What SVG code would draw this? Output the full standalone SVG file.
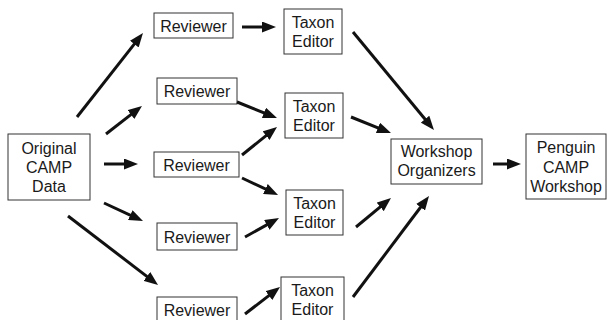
<svg xmlns="http://www.w3.org/2000/svg" width="608" height="320" viewBox="0 0 608 320">
<style>
.box{fill:#fff;stroke:#333;stroke-width:1}
.t{font-family:"Liberation Sans",Arial,sans-serif;font-size:16px;fill:#1a1a1a;text-anchor:middle}
.c line{stroke:#111;stroke-width:3;marker-end:url(#ah)}
</style>
<defs>
<marker id="ah" markerUnits="userSpaceOnUse" markerWidth="14" markerHeight="11" refX="4" refY="5.5" orient="auto">
<path d="M0,0 L14,5.5 L0,11 z" fill="#111"/>
</marker>
</defs>
<rect width="608" height="320" fill="#fff"/>
<g id="original"><rect class="box" x="8" y="134" width="82" height="66"/><text class="t" x="49" y="154">Original</text><text class="t" x="49" y="173">CAMP</text><text class="t" x="49" y="192">Data</text></g>
<g id="reviewer1"><rect class="box" x="154" y="13" width="79" height="25"/><text class="t" x="193.5" y="32">Reviewer</text></g>
<g id="reviewer2"><rect class="box" x="157" y="78" width="80" height="26"/><text class="t" x="197" y="97">Reviewer</text></g>
<g id="reviewer3"><rect class="box" x="154" y="152" width="85" height="25"/><text class="t" x="196.5" y="171">Reviewer</text></g>
<g id="reviewer4"><rect class="box" x="157" y="223" width="80" height="27"/><text class="t" x="197" y="243">Reviewer</text></g>
<g id="reviewer5"><rect class="box" x="157" y="297" width="80" height="26"/><text class="t" x="197" y="316">Reviewer</text></g>
<g id="taxon1"><rect class="box" x="284" y="9" width="58" height="45"/><text class="t" x="313" y="28">Taxon</text><text class="t" x="313" y="47">Editor</text></g>
<g id="taxon2"><rect class="box" x="285" y="93" width="58" height="45"/><text class="t" x="314" y="112">Taxon</text><text class="t" x="314" y="131">Editor</text></g>
<g id="taxon3"><rect class="box" x="286" y="190" width="57" height="45"/><text class="t" x="314.5" y="209">Taxon</text><text class="t" x="314.5" y="228">Editor</text></g>
<g id="taxon4"><rect class="box" x="281" y="277" width="63" height="46"/><text class="t" x="312.5" y="296">Taxon</text><text class="t" x="312.5" y="315">Editor</text></g>
<g id="organizers"><rect class="box" x="391" y="139" width="91" height="45"/><text class="t" x="436.5" y="157">Workshop</text><text class="t" x="436.5" y="176">Organizers</text></g>
<g id="penguin"><rect class="box" x="526" y="134" width="80" height="65"/><text class="t" x="566" y="153">Penguin</text><text class="t" x="566" y="173">CAMP</text><text class="t" x="566" y="192">Workshop</text></g>
<g id="connectors" class="c">
<line x1="77" y1="117" x2="136.8" y2="40.9"/>
<line x1="106" y1="134" x2="134.1" y2="112.1"/>
<line x1="104" y1="164" x2="128" y2="164"/>
<line x1="104" y1="203" x2="133.9" y2="216.8"/>
<line x1="68" y1="216" x2="150.1" y2="278.9"/>
<line x1="242" y1="27" x2="266" y2="27"/>
<line x1="237" y1="102" x2="267.7" y2="114.3"/>
<line x1="242" y1="155" x2="269.2" y2="133.2"/>
<line x1="242" y1="178" x2="269" y2="190.7"/>
<line x1="245" y1="237" x2="270.3" y2="222.9"/>
<line x1="245" y1="314" x2="272.1" y2="293.1"/>
<line x1="353" y1="32" x2="427.6" y2="122.3"/>
<line x1="351" y1="117" x2="381.7" y2="129.3"/>
<line x1="356" y1="227" x2="383.3" y2="204.4"/>
<line x1="353" y1="297" x2="423" y2="204"/>
<line x1="493" y1="164" x2="511" y2="164"/>
</g>
</svg>
